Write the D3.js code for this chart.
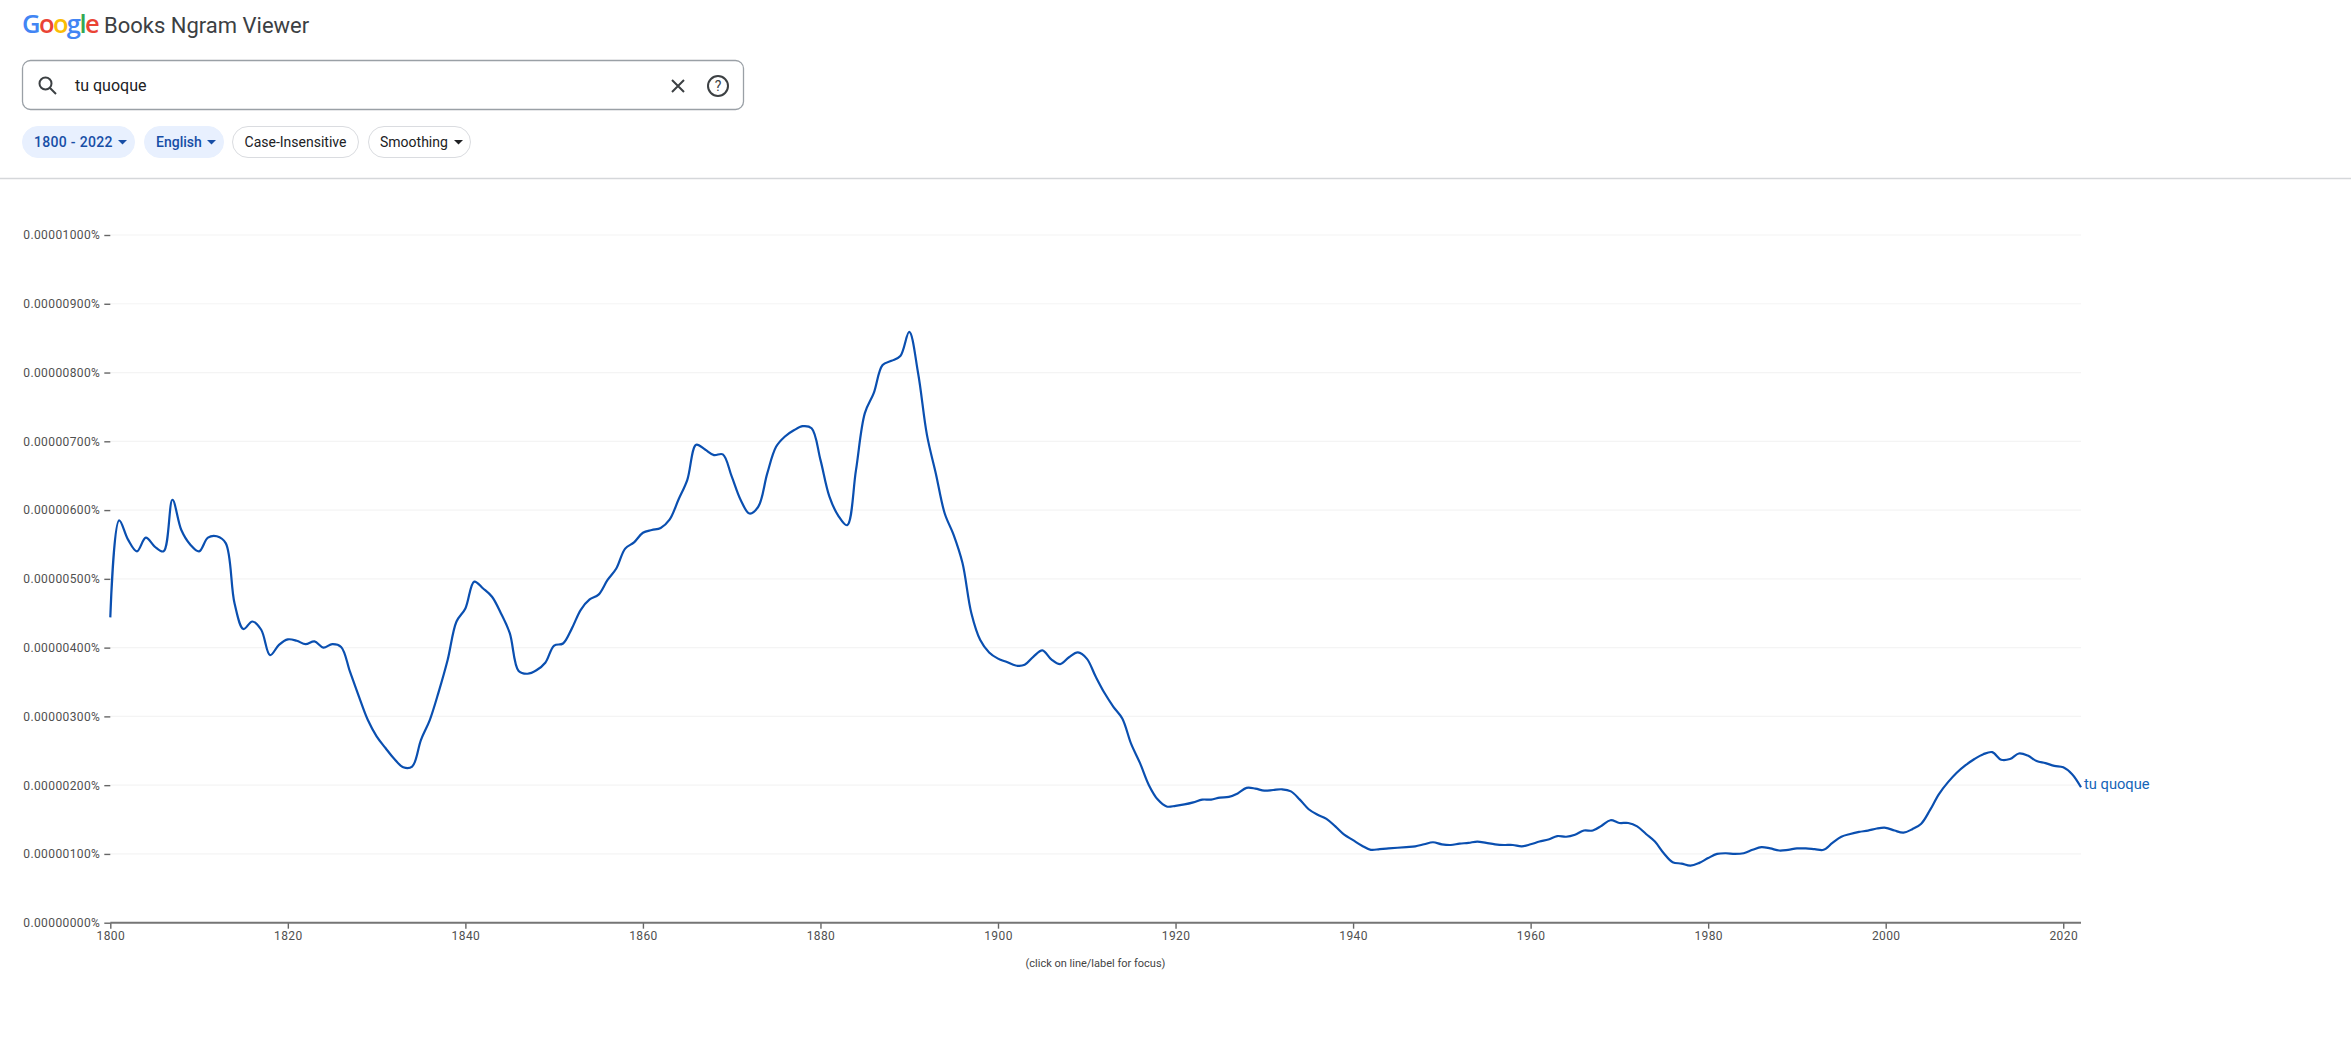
<!DOCTYPE html>
<html>
<head>
<meta charset="utf-8">
<title>Google Books Ngram Viewer</title>
<script src="https://cdn.jsdelivr.net/npm/d3@7"></script>
<style>
    html, body { margin: 0; padding: 0; background: #fff; overflow: hidden; }
    text { font-family: Roboto, sans-serif; }
    .domain { display: none; }
</style>
</head>
<body>
<svg id="chart"></svg>
<script>
// values are in units of 0.000001%, one for each year from 1800 to 2022
const startYear = 1800;
const tuQuoque = [
    4.44, 5.85, 5.57, 5.40, 5.60, 5.47, 5.40, 6.15, 5.71, 5.50,
    5.40, 5.60, 5.62, 5.52, 4.64, 4.27, 4.38, 4.26, 3.89, 4.04,
    4.12, 4.10, 4.05, 4.09, 4.00, 4.05, 4.01, 3.65, 3.29, 2.95,
    2.71, 2.54, 2.38, 2.26, 2.27, 2.66, 2.95, 3.36, 3.82, 4.38,
    4.57, 4.96, 4.86, 4.74, 4.50, 4.21, 3.66, 3.62, 3.67, 3.78,
    4.03, 4.06, 4.28, 4.55, 4.70, 4.77, 4.98, 5.15, 5.44, 5.53,
    5.67, 5.71, 5.74, 5.86, 6.15, 6.44, 6.95, 6.88, 6.80, 6.81,
    6.49, 6.15, 5.95, 6.05, 6.53, 6.92, 7.07, 7.16, 7.22, 7.19,
    6.73, 6.20, 5.92, 5.78, 6.58, 7.41, 7.70, 8.11, 8.17, 8.24,
    8.59, 7.99, 7.09, 6.53, 5.95, 5.64, 5.23, 4.50, 4.11, 3.93,
    3.84, 3.79, 3.74, 3.75, 3.87, 3.96, 3.83, 3.76, 3.86, 3.93,
    3.84, 3.58, 3.34, 3.14, 2.97, 2.60, 2.32, 2.00, 1.79, 1.69,
    1.70, 1.72, 1.75, 1.79, 1.79, 1.82, 1.83, 1.88, 1.96, 1.95,
    1.92, 1.93, 1.94, 1.91, 1.79, 1.65, 1.57, 1.51, 1.40, 1.28,
    1.20, 1.12, 1.06, 1.07, 1.08, 1.09, 1.10, 1.11, 1.14, 1.17,
    1.14, 1.13, 1.15, 1.16, 1.18, 1.16, 1.14, 1.13, 1.13, 1.11,
    1.14, 1.18, 1.21, 1.26, 1.25, 1.28, 1.34, 1.34, 1.41, 1.49,
    1.45, 1.45, 1.40, 1.29, 1.18, 1.01, 0.88, 0.86, 0.83, 0.87,
    0.94, 1.00, 1.01, 1.00, 1.01, 1.06, 1.10, 1.08, 1.05, 1.06,
    1.08, 1.08, 1.07, 1.06, 1.16, 1.25, 1.29, 1.32, 1.34, 1.37,
    1.38, 1.34, 1.31, 1.36, 1.44, 1.64, 1.87, 2.04, 2.18, 2.29,
    2.38, 2.45, 2.48, 2.37, 2.38, 2.46, 2.43, 2.35, 2.32, 2.28,
    2.26, 2.16, 1.97
];
const yTicks = [0, 1, 2, 3, 4, 5, 6, 7, 8, 9, 10];
const xTicks = [1800, 1820, 1840, 1860, 1880, 1900, 1920, 1940, 1960, 1980, 2000, 2020];
const seriesName = 'tu quoque';
const queryText = 'tu quoque';
const titleText = 'Books Ngram Viewer';
const logoLetters = ['G', 'o', 'o', 'g', 'l', 'e'];
const logoColors = ['#4285f4', '#ea4335', '#fbbc05', '#4285f4', '#34a853', '#ea4335'];
const chips = [
    { label: '1800 - 2022', x0: 22, x1: 135, active: true, caret: true },
    { label: 'English', x0: 144, x1: 224, active: true, caret: true },
    { label: 'Case-Insensitive', x0: 232, x1: 359, active: false, caret: false },
    { label: 'Smoothing', x0: 368, x1: 471, active: false, caret: true }
];

const svg = d3.select('#chart')
    .attr('width', 2351)
    .attr('height', 1039);

// Header
const logo = svg.append('text')
    .attr('x', 22)
    .attr('y', 33)
    .attr('font-size', 25.5)
    .attr('font-weight', 600)
    .style('font-family', '"Open Sans", sans-serif')
    .attr('letter-spacing', -1.6);
logo.selectAll('tspan')
    .data(logoLetters)
    .join('tspan')
    .attr('fill', (d, i) => logoColors[i])
    .text(d => d);

svg.append('text')
    .attr('x', 104)
    .attr('y', 33)
    .attr('font-size', 22)
    .attr('fill', '#3c4043')
    .text(titleText);

// Search box
svg.append('rect')
    .attr('x', 22.5)
    .attr('y', 60.5)
    .attr('width', 721)
    .attr('height', 49)
    .attr('rx', 8)
    .attr('fill', '#fff')
    .attr('stroke', '#9aa0a6')
    .attr('stroke-width', 1.3);

const icons = svg.append('g')
    .attr('fill', 'none')
    .attr('stroke', '#3c4043')
    .attr('stroke-width', 2);
icons.append('circle').attr('cx', 45.5).attr('cy', 83.5).attr('r', 6);
icons.append('path').attr('d', 'M50 88 L56 94');
icons.append('path').attr('d', 'M672 80 L684 92 M684 80 L672 92');
icons.append('circle').attr('cx', 718).attr('cy', 86).attr('r', 10);
svg.append('text')
    .attr('x', 718)
    .attr('y', 91)
    .attr('text-anchor', 'middle')
    .attr('font-size', 14)
    .attr('fill', '#3c4043')
    .text('?');

svg.append('text')
    .attr('x', 75)
    .attr('y', 91)
    .attr('font-size', 16)
    .attr('fill', '#202124')
    .text(queryText);

// Filter chips
const chip = svg.append('g').selectAll('g')
    .data(chips)
    .join('g');

chip.append('rect')
    .attr('x', d => d.x0 + 0.5)
    .attr('y', 126.5)
    .attr('width', d => d.x1 - d.x0 - 1)
    .attr('height', 31)
    .attr('rx', 15.5)
    .attr('fill', d => d.active ? '#e8f0fe' : '#fff')
    .attr('stroke', d => d.active ? '#e8f0fe' : '#dadce0');

chip.append('text')
    .attr('x', d => d.caret ? d.x0 + 12 : (d.x0 + d.x1) / 2)
    .attr('y', 146.5)
    .attr('text-anchor', d => d.caret ? 'start' : 'middle')
    .attr('font-size', 14)
    .attr('font-weight', d => d.active ? 500 : 400)
    .attr('letter-spacing', d => d.label === '1800 - 2022' ? 0.3 : 0)
    .attr('fill', d => d.active ? '#174ea6' : '#202124')
    .text(d => d.label);

chip.filter(d => d.caret).append('path')
    .attr('d', d => `M${d.x1 - 17} 140 h9 l-4.5 4.5 z`)
    .attr('fill', d => d.active ? '#174ea6' : '#202124');

svg.append('line')
    .attr('x1', 0)
    .attr('x2', 2351)
    .attr('y1', 178.5)
    .attr('y2', 178.5)
    .attr('stroke', '#d5d7da')
    .attr('stroke-width', 1.3);

// Chart
const data = tuQuoque.map((v, i) => ({ year: startYear + i, value: v }));

const xScale = d3.scaleLinear()
    .domain([1800, 2022])
    .range([110.3, 2081]);

const yScale = d3.scaleLinear()
    .domain([0, 10])
    .range([922.7, 235]);

// Grid lines
svg.append('g')
    .selectAll('line')
    .data(yTicks.slice(1))
    .join('line')
    .attr('x1', xScale(1800))
    .attr('x2', xScale(2022))
    .attr('y1', d => yScale(d))
    .attr('y2', d => yScale(d))
    .attr('stroke', '#f4f4f4')
    .attr('stroke-width', 1.2);

const yAxis = d3.axisLeft(yScale)
    .tickValues(yTicks)
    .tickSize(6)
    .tickPadding(4)
    .tickFormat(d => (d * 1e-6).toFixed(8) + '%');

const yAxisG = svg.append('g')
    .attr('transform', `translate(${xScale(1800)},0)`)
    .call(yAxis);

const xAxis = d3.axisBottom(xScale)
    .tickValues(xTicks)
    .tickSize(6)
    .tickPadding(3)
    .tickFormat(d3.format('d'));

const xAxisG = svg.append('g')
    .attr('transform', `translate(0,${yScale(0)})`)
    .call(xAxis);

svg.selectAll('.tick line')
    .attr('stroke', '#666')
    .attr('stroke-width', 1.4);

svg.selectAll('.tick text')
    .attr('font-size', 12)
    .attr('fill', '#505050')
    .style('font-family', 'Roboto, sans-serif')
    .attr('letter-spacing', 0.4);

// Baseline
svg.append('line')
    .attr('x1', xScale(1800))
    .attr('x2', xScale(2022))
    .attr('y1', yScale(0))
    .attr('y2', yScale(0))
    .attr('stroke', '#757575')
    .attr('stroke-width', 2);

svg.append('text')
    .attr('x', 1095.5)
    .attr('y', 967)
    .attr('text-anchor', 'middle')
    .attr('font-size', 11)
    .attr('fill', '#444')
    .text('(click on line/label for focus)');

// Series line
const line = d3.line()
    .x(d => xScale(d.year))
    .y(d => yScale(d.value))
    .curve(d3.curveCatmullRom.alpha(0.5));

svg.append('path')
    .datum(data)
    .attr('d', line)
    .attr('fill', 'none')
    .attr('stroke', '#0a4fb0')
    .attr('stroke-width', 2.2);

svg.append('text')
    .attr('x', 2084)
    .attr('y', 789)
    .attr('font-size', 14.7)
    .attr('fill', '#1565b8')
    .text(seriesName);
</script>
</body>
</html>
